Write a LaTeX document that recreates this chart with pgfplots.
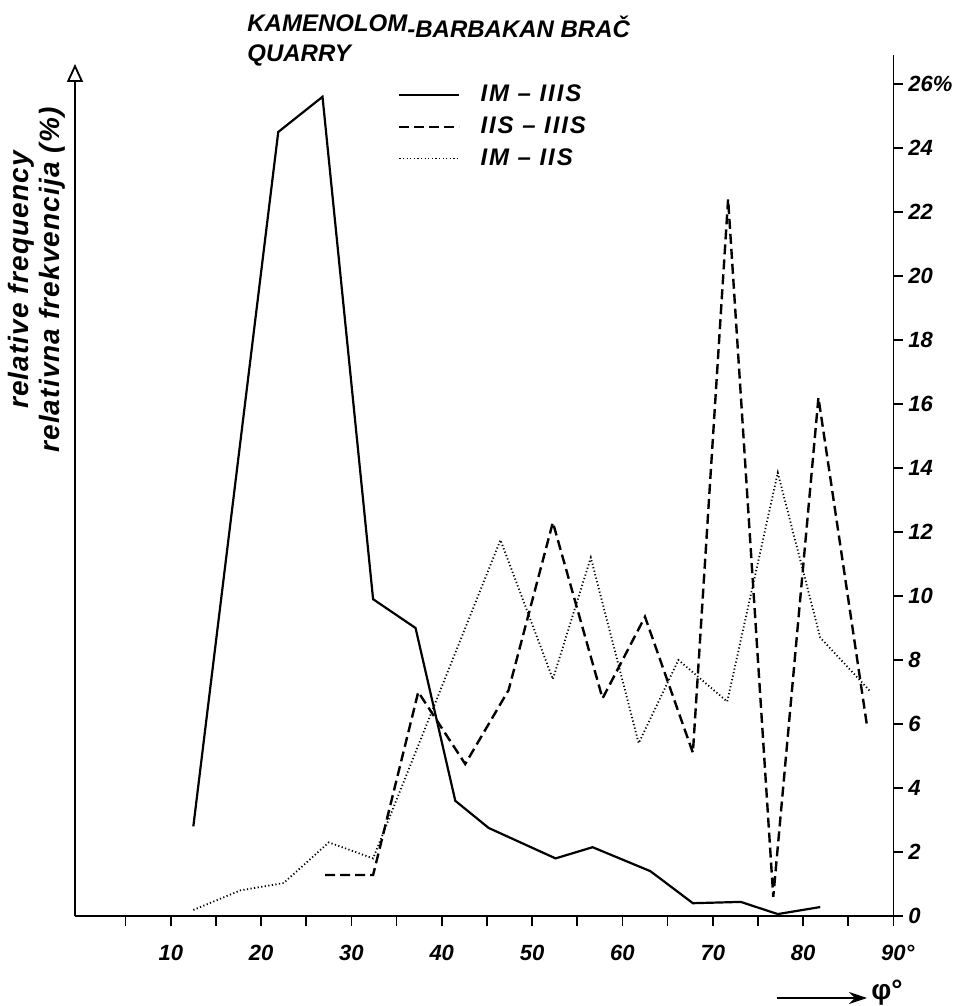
\documentclass[border=0pt]{standalone}
\usepackage{fontspec}
\setmainfont{Liberation Sans}
\usepackage{pgfplots}
\pgfplotsset{compat=1.18}
\usetikzlibrary{arrows.meta}

\begin{document}
\begin{tikzpicture}
\useasboundingbox (-37.5pt,-45pt) rectangle (446pt,458pt);
\begin{axis}[
  at={(0,0)}, anchor=south west,
  scale only axis, width=409.2pt, height=430.4pt,
  xmin=-0.6, xmax=90, ymin=0, ymax=26.9,
  axis x line*=bottom, axis y line*=right,
  axis line style={line width=0.9pt},
  tick style={line width=0.9pt, black},
  tick align=outside, major tick length=5pt,
  xtick={5,10,...,90},
  xticklabels={,10,,20,,30,,40,,50,,60,,70,,80,,90\rlap{°}},
  ytick={0,2,...,26},
  yticklabels={0,2,4,6,8,10,12,14,16,18,20,22,24,26\%},
  ticklabel style={font=\fontsize{11}{13}\selectfont\bfseries\itshape},
  xticklabel style={yshift=-6pt},
  yticklabel style={xshift=-1pt},
  clip=false,
  legend style={at={(0.387,0.975)}, anchor=north west, draw=none, fill=none,
    font=\fontsize{12}{14}\selectfont\bfseries\itshape\addfontfeatures{LetterSpace=8}, row sep=2pt,
    /tikz/every odd column/.append style={column sep=8pt}},
  legend cell align=left,
  legend image code/.code={\draw[#1] (0pt,0pt) -- (30pt,0pt);},
]
\addplot[black, line width=1.1pt] coordinates {
  (12.5,2.8) (21.9,24.5) (26.8,25.6) (32.4,9.9) (37.1,9.0) (41.5,3.6)
  (45.2,2.75) (52.6,1.8) (56.7,2.15) (63.1,1.4) (67.8,0.4) (73.1,0.44)
  (77.2,0.06) (81.9,0.28)};
\addlegendentry{IM – IIIS}
\addplot[black, line width=1.2pt, dash pattern=on 5pt off 2.5pt] coordinates {
  (27.1,1.28) (32.4,1.28) (37.4,7.0) (42.6,4.75) (47.4,7.06) (52.3,12.3)
  (57.8,6.8) (62.5,9.35) (67.8,5.1) (71.7,22.4) (76.7,0.6) (81.7,16.2)
  (87.1,5.9)};
\addlegendentry{IIS – IIIS}
\addplot[black, line width=0.9pt, dash pattern=on 0.6pt off 1.2pt] coordinates {
  (12.5,0.19) (17.7,0.8) (22.5,1.03) (27.5,2.3) (32.4,1.8) (46.5,11.75)
  (52.3,7.4) (56.5,11.2) (61.8,5.4) (66.2,8.0) (71.6,6.7) (77.2,13.85)
  (81.9,8.7) (87.5,7.0)};
\addlegendentry{IM – IIS}
\end{axis}
% left axis with open arrow
\draw[line width=0.9pt, -{Triangle[open,length=9pt,width=8pt]}] (0,0) -- (0,426pt);
% title
\node[anchor=north west, align=left, inner sep=0pt, font=\fontsize{12}{15}\selectfont\bfseries\itshape]
  at (86pt,451pt) {KAMENOLOM\raisebox{-3pt}{-BARBAKAN BRAČ}\\QUARRY};
% y label
\node[rotate=90, align=center, font=\fontsize{14}{15.5}\selectfont\bfseries\itshape\addfontfeatures{LetterSpace=4}]
  at (-19pt,318pt) {relative frequency\\relativna frekvencija (\%)};
% x label
\draw[line width=1pt, -{Stealth[length=9pt,width=6pt]}] (351pt,-41pt) -- (396pt,-41pt);
\node[anchor=west, inner sep=1pt, font=\fontsize{14}{16}\selectfont\bfseries] at (397pt,-38.5pt) {φ°};
\end{tikzpicture}
\end{document}
